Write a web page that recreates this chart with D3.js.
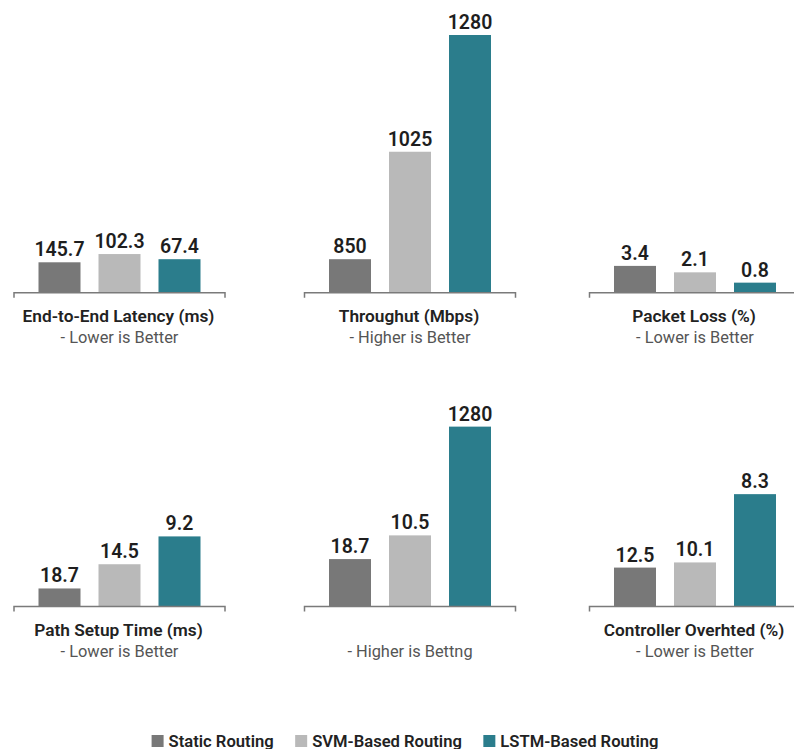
<!DOCTYPE html>
<html>
<head>
<meta charset="utf-8">
<script src="https://cdn.jsdelivr.net/npm/d3@7"></script>
<style>
  html, body { margin: 0; padding: 0; background: #ffffff; }
  svg { display: block; font-family: Roboto, "Liberation Sans", Arial, sans-serif; }
</style>
</head>
<body>
<svg id="chart" width="794" height="749"></svg>
<script>
// ---- data ----
const metrics = ["End-to-End Latency (ms)", "Throughut (Mbps)", "Packet Loss (%)",
                 "Path Setup Time (ms)", "", "Controller Overhted (%)"];
const notes = ["- Lower is Better", "- Higher is Better", "- Lower is Better",
               "- Lower is Better", "- Higher is Bettng", "- Lower is Better"];
const series = ["Static Routing", "SVM-Based Routing", "LSTM-Based Routing"];
const staticLabels = ["145.7", "850", "3.4", "18.7", "18.7", "12.5"];
const svmLabels    = ["102.3", "1025", "2.1", "14.5", "10.5", "10.1"];
const lstmLabels   = ["67.4", "1280", "0.8", "9.2", "1280", "8.3"];
// drawn bar heights as shown in the picture (relative units, tallest bar = 100)
const staticHeights = [11.8, 13.0, 10.4, 7.0, 18.4, 15.1];
const svmHeights    = [15.0, 54.7, 7.9, 16.4, 27.6, 17.1];
const lstmHeights   = [13.0, 100, 3.9, 27.2, 69.8, 43.6];
const colors = ["#787878", "#b9b9b9", "#2b7d8c"];

// ---- layout ----
const svg = d3.select("#chart");
const panelCenters = [119.5, 410, 695];
const rowBaselines = [292.7, 606.5];
const h = d3.scaleLinear().domain([0, 100]).range([0, 257.7]);

const labelSets = [staticLabels, svmLabels, lstmLabels];
const heightSets = [staticHeights, svmHeights, lstmHeights];

metrics.forEach((m, i) => {
  const c = panelCenters[i % 3];
  const base = rowBaselines[Math.floor(i / 3)];
  const x = d3.scaleBand().domain(series).range([c - 90, c + 90])
              .paddingInner(0.3).paddingOuter(0.15);
  const g = svg.append("g");
  const rows = series.map((s, k) => ({ s, k, v: heightSets[k][i], lab: labelSets[k][i] }));

  g.selectAll("rect").data(rows).join("rect")
    .attr("x", d => x(d.s))
    .attr("width", x.bandwidth())
    .attr("y", d => base - h(d.v))
    .attr("height", d => h(d.v))
    .attr("fill", d => colors[d.k]);

  g.selectAll("text.val").data(rows).join("text")
    .attr("class", "val")
    .attr("x", d => x(d.s) + x.bandwidth() / 2)
    .attr("y", d => base - h(d.v) - 6)
    .attr("text-anchor", "middle")
    .attr("font-size", 19.5)
    .attr("font-weight", 600)
    .attr("fill", "#1e1e1e")
    .text(d => d.lab);

  const x0 = c - 105.5, x1 = c + 105.5;
  g.append("path")
    .attr("d", `M${x0},${base + 5}V${base}H${x1}V${base + 5}`)
    .attr("fill", "none")
    .attr("stroke", "#7a7a7a")
    .attr("stroke-width", 1.5);

  if (m) {
    g.append("text")
      .attr("x", c - 1)
      .attr("y", base + 29)
      .attr("text-anchor", "middle")
      .attr("font-size", 17.3)
      .attr("font-weight", 600)
      .attr("fill", "#222")
      .text(m);
  }
  g.append("text")
    .attr("x", c)
    .attr("y", base + 50.5)
    .attr("text-anchor", "middle")
    .attr("font-size", 16.4)
    .attr("fill", "#555")
    .text(notes[i]);
});

// ---- legend ----
const legend = svg.append("g");
const items = legend.selectAll("g").data(series).join("g");
items.append("rect")
  .attr("width", 12).attr("height", 12)
  .attr("y", 735)
  .attr("fill", (d, k) => colors[k]);
items.append("text")
  .attr("x", 17)
  .attr("y", 746.5)
  .attr("font-size", 16.6)
  .attr("font-weight", 600)
  .attr("fill", "#222")
  .text(d => d);
let widths = [];
items.each(function () { widths.push(this.querySelector("text").getComputedTextLength()); });
const itemW = widths.map(w => 17 + w);
const gap = 21.5;
const total = d3.sum(itemW) + gap * (itemW.length - 1);
let cx = 405 - total / 2;
items.attr("transform", (d, k) => {
  const t = `translate(${cx},0)`;
  cx += itemW[k] + gap;
  return t;
});
</script>
</body>
</html>
